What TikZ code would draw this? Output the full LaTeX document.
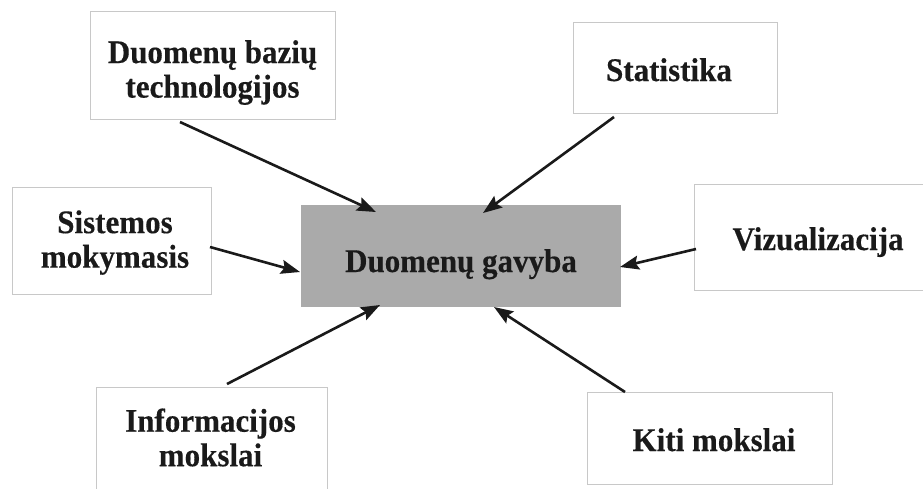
\documentclass[tikz,border=0pt]{standalone}
\usepackage{fontspec}
\setmainfont[FakeStretch=0.94,FakeBold=0.3]{Liberation Serif}
\usetikzlibrary{arrows.meta}
\definecolor{coregray}{RGB}{170,170,170}
\definecolor{boxgray}{RGB}{200,200,200}
\definecolor{inkblack}{RGB}{26,26,26}
\begin{document}
\begin{tikzpicture}[x=1pt,y=-1pt,
  lbl/.style={inner sep=0pt, align=center, text=inkblack,
    font=\bfseries\fontsize{33}{34.5}\selectfont},
  box/.style={draw=boxgray, line width=1pt, fill=white, inner sep=0pt},
  core/.style={fill=coregray, inner sep=0pt},
  link/.style={draw=inkblack, line width=2.6pt,
    -{Stealth[length=19pt,width=14pt,inset=3pt]}}]
\useasboundingbox (0,0) rectangle (923,488);
\clip (0,0) rectangle (923,488);
\fill[white] (0,0) rectangle (923,488);

% boxes
\node[box, minimum width=245pt, minimum height=108pt] (db)   at (212.5,65)  {};
\node[box, minimum width=204pt, minimum height=91pt]  (stat) at (675,67.5)  {};
\node[box, minimum width=199pt, minimum height=107pt] (sis)  at (111.5,240.5) {};
\node[core, minimum width=320pt, minimum height=102pt] (ctr) at (461,256)   {};
\node[box, minimum width=248pt, minimum height=106pt] (viz)  at (818,237)   {};
\node[box, minimum width=231pt, minimum height=108pt] (info) at (211.5,441) {};
\node[box, minimum width=245pt, minimum height=92pt]  (kiti) at (709.5,438) {};

% texts
\node[lbl] (dbT)   at (212.5,72.5) {Duomenų bazių\\technologijos};
\node[lbl, anchor=base] (statT) at (669,81)  {Statistika};
\node[lbl] (sisT)  at (115,242.5) {Sistemos\\mokymasis};
\node[lbl, anchor=base] (ctrT)  at (461,272) {Duomenų gavyba};
\node[lbl, anchor=base] (vizT)  at (818,250) {Vizualizacija};
\node[lbl] (infoT) at (210.5,437.5) {Informacijos\\mokslai};
\node[lbl, anchor=base] (kitiT) at (714,451) {Kiti mokslai};

% connectors
\coordinate (dbS)   at (180,122);  \coordinate (dbE)   at (376,212);
\coordinate (statS) at (614,117);  \coordinate (statE) at (483,213);
\coordinate (sisS)  at (210,247);  \coordinate (sisE)  at (300,272);
\coordinate (vizS)  at (696,249);  \coordinate (vizE)  at (620,267);
\coordinate (infoS) at (227,384);  \coordinate (infoE) at (380,305);
\coordinate (kitiS) at (625,392);  \coordinate (kitiE) at (494,307);

\draw[link] (dbS) -- (dbE);
\draw[link] (statS) -- (statE);
\draw[link] (sisS) -- (sisE);
\draw[link] (vizS) -- (vizE);
\draw[link] (infoS) -- (infoE);
\draw[link] (kitiS) -- (kitiE);
\end{tikzpicture}
\end{document}
